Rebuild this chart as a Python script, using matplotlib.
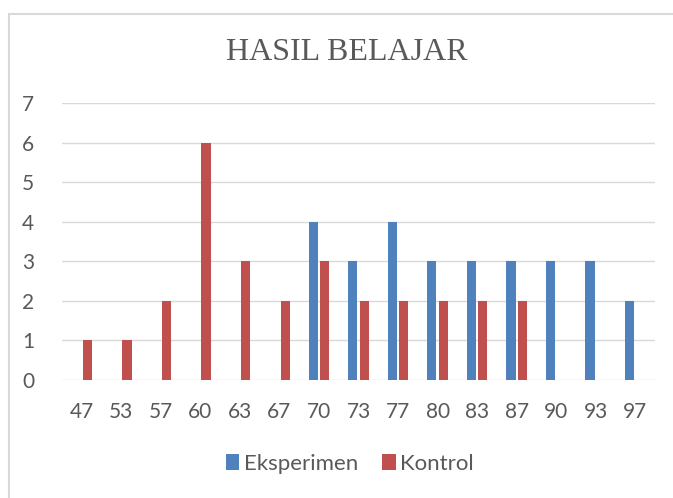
import numpy as np
import matplotlib.pyplot as plt
from matplotlib.patches import Rectangle

# nilai dan frekuensi
nilai = ['47', '53', '57', '60', '63', '67', '70', '73', '77', '80', '83', '87', '90', '93', '97']
eksperimen = [0, 0, 0, 0, 0, 0, 4, 3, 4, 3, 3, 3, 3, 3, 2]
kontrol = [1, 1, 2, 6, 3, 2, 3, 2, 2, 2, 2, 2, 0, 0, 0]

biru = '#4F81BD'
merah = '#C0504D'
abu = '#595959'

fig = plt.figure(figsize=(6.73, 4.98), dpi=100)
ax = fig.add_axes([62/673, 1-380/498, (655-62)/673, (380-103)/498])

x = np.arange(len(nilai))
lebar = 0.235
ax.bar(x - 0.145, eksperimen, lebar, color=biru, label='Eksperimen', zorder=3)
ax.bar(x + 0.145, kontrol, lebar, color=merah, label='Kontrol', zorder=3)

ax.set_xlim(-0.5, len(nilai) - 0.5)
ax.set_ylim(0, 7)
ax.set_yticks(range(0, 8))
ax.set_xticks(x)
ax.set_xticklabels(nilai)
ax.grid(axis='y', color='#D9D9D9', linewidth=1, zorder=0)
for s in ax.spines.values():
    s.set_visible(False)
ax.tick_params(length=0, labelsize=15, colors=abu, labelfontfamily='Lato')
ax.tick_params(axis='x', pad=16)
ax.tick_params(axis='y', pad=20)

fig.text(0.516, 1-52/498, 'HASIL BELAJAR', ha='center', va='center',
         fontsize=23, color=abu, family='Liberation Serif')

fig.legend(loc='center', bbox_to_anchor=(0.52, 1-464/498), ncol=2, frameon=False,
           handlelength=0.6, handleheight=0.7, handletextpad=0.2, columnspacing=1.1,
           prop={'family': 'Lato', 'size': 16}, labelcolor=abu)

# bingkai abu-abu
fig.patches.append(Rectangle((9/673, -0.05), 1.0, 1-14/498+0.05, transform=fig.transFigure,
                             fill=False, edgecolor='#D9D9D9', linewidth=1.5))

fig.savefig('out.png', dpi=100)
